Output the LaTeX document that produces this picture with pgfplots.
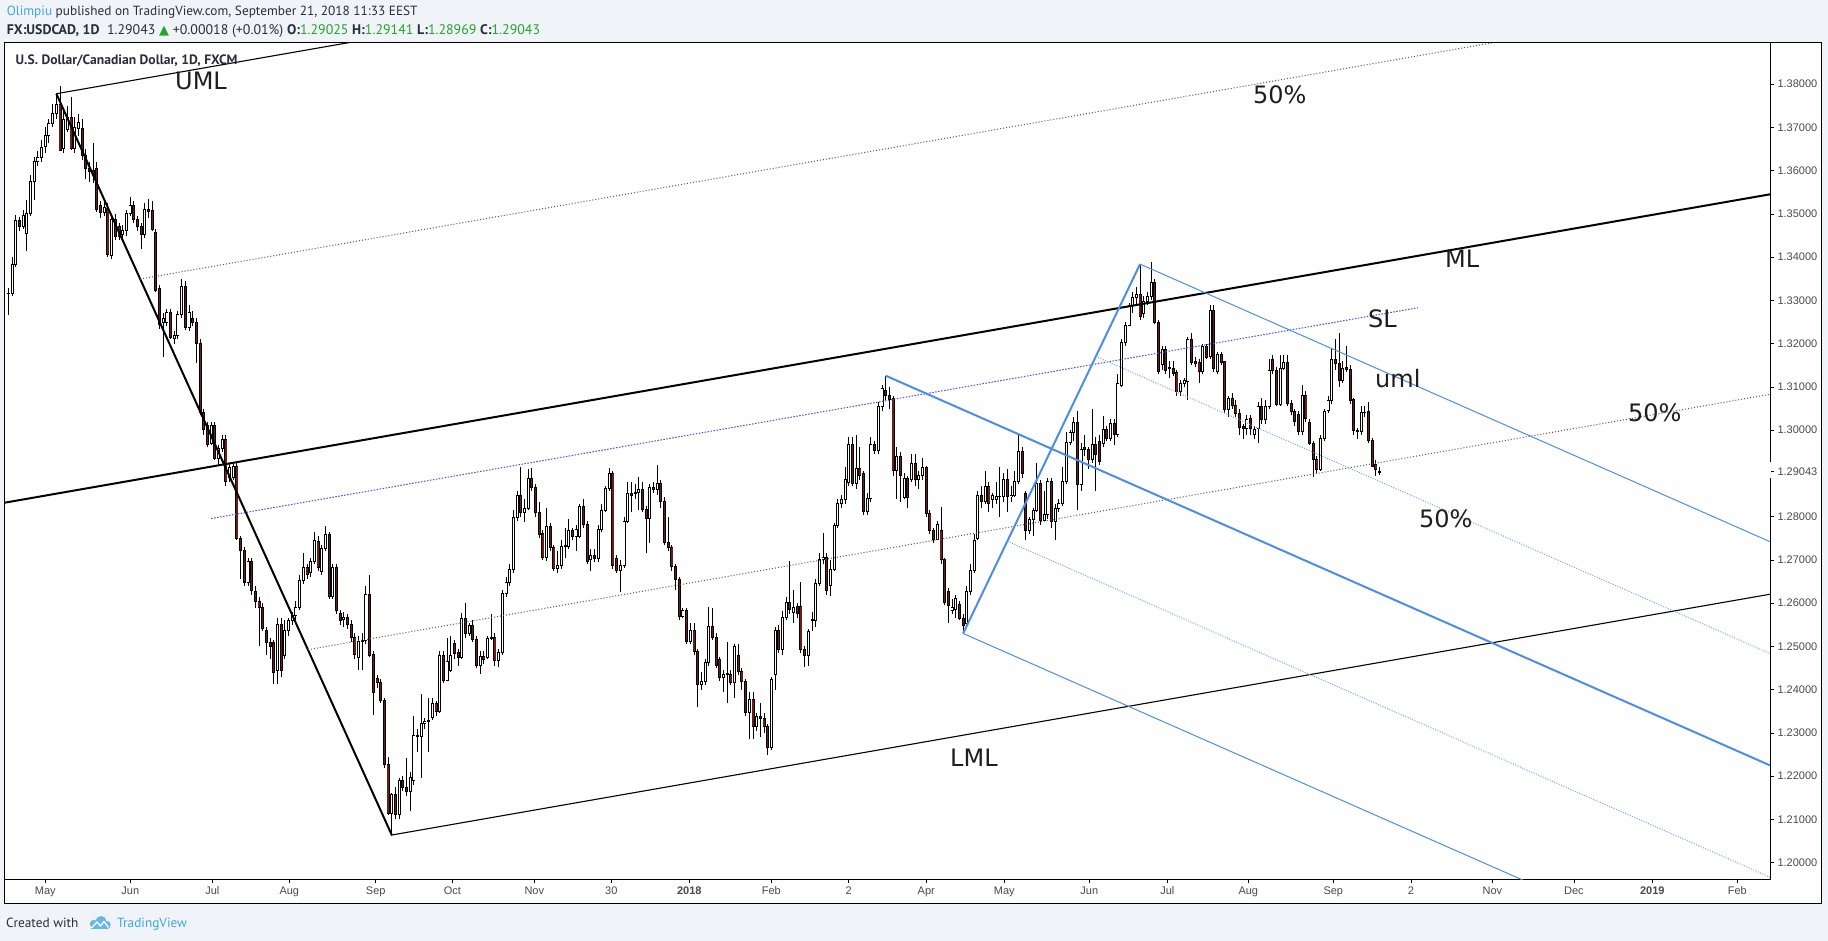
\documentclass[border=0pt]{standalone}
\usepackage{pgfplots}
\pgfplotsset{compat=1.18}
\usepackage{pgfplotstable}
\usepackage{fontspec}
\setmainfont{Liberation Sans}
\newfontfamily\hdrfont{PT Sans}
\newfontfamily\lblfont{DejaVu Sans}
\newfontfamily\symfont{DejaVu Sans}
\definecolor{bgc}{HTML}{F0F3F7}
\definecolor{tickgray}{HTML}{4A4A4A}
\definecolor{hdrtext}{HTML}{2A2E39}
\definecolor{tvgreen}{HTML}{22A52A}
\definecolor{tvlink}{HTML}{3DA8E0}
\definecolor{downred}{HTML}{6E1C14}
\definecolor{dotgray}{HTML}{555555}
\definecolor{slblue}{HTML}{4A4AF5}
\definecolor{pfblue}{HTML}{4C8DE8}
\definecolor{pflight}{HTML}{6FA8F0}
\definecolor{lbltext}{HTML}{1E1E1E}

\pgfplotstableread{
i o h l c
-10 1.3315 1.3328 1.3267 1.3316
-9 1.3317 1.3401 1.3310 1.3383
-8 1.3382 1.3497 1.3378 1.3485
-7 1.3485 1.3492 1.3460 1.3472
-6 1.3472 1.3510 1.3465 1.3497
-5 1.3454 1.3532 1.3415 1.3501
-4 1.3501 1.3590 1.3495 1.3574
-3 1.3574 1.3631 1.3532 1.3622
-2 1.3621 1.3645 1.3610 1.3631
-1 1.3631 1.3670 1.3620 1.3653
0 1.3656 1.3700 1.3640 1.3682
1 1.3682 1.3720 1.3665 1.3709
2 1.3709 1.3755 1.3700 1.3733
3 1.3733 1.3780 1.3720 1.3753
4 1.3753 1.3796 1.3645 1.3647
5 1.3651 1.3745 1.3640 1.3718
6 1.3696 1.3750 1.3690 1.3722
7 1.3722 1.3770 1.3648 1.3651
8 1.3651 1.3725 1.3640 1.3700
9 1.3697 1.3730 1.3680 1.3712
10 1.3697 1.3720 1.3625 1.3634
11 1.3634 1.3650 1.3580 1.3605
12 1.3605 1.3620 1.3575 1.3598
13 1.3600 1.3665 1.3572 1.3590
14 1.3605 1.3620 1.3505 1.3510
15 1.3519 1.3530 1.3490 1.3504
16 1.3504 1.3530 1.3495 1.3514
17 1.3513 1.3525 1.3400 1.3406
18 1.3404 1.3500 1.3395 1.3488
19 1.3488 1.3500 1.3440 1.3448
20 1.3470 1.3480 1.3440 1.3448
21 1.3452 1.3475 1.3440 1.3461
22 1.3461 1.3510 1.3450 1.3501
23 1.3501 1.3540 1.3495 1.3519
24 1.3519 1.3530 1.3480 1.3488
25 1.3488 1.3495 1.3460 1.3470
26 1.3470 1.3480 1.3420 1.3452
27 1.3452 1.3525 1.3445 1.3510
28 1.3510 1.3535 1.3490 1.3506
29 1.3508 1.3530 1.3460 1.3464
30 1.3457 1.3465 1.3320 1.3324
31 1.3327 1.3335 1.3235 1.3244
32 1.3249 1.3270 1.3170 1.3258
33 1.3249 1.3280 1.3240 1.3271
34 1.3271 1.3280 1.3210 1.3215
35 1.3211 1.3230 1.3200 1.3218
36 1.3218 1.3275 1.3210 1.3268
37 1.3268 1.3350 1.3260 1.3333
38 1.3333 1.3345 1.3232 1.3238
39 1.3238 1.3290 1.3230 1.3271
40 1.3259 1.3275 1.3240 1.3249
41 1.3249 1.3260 1.3155 1.3200
42 1.3200 1.3210 1.3035 1.3041
43 1.3041 1.3050 1.2990 1.3001
44 1.3010 1.3020 1.2960 1.2966
45 1.2970 1.3020 1.2965 1.3010
46 1.3010 1.3020 1.2930 1.2935
47 1.2935 1.2965 1.2920 1.2957
48 1.2957 1.2990 1.2950 1.2979
49 1.2979 1.2990 1.2870 1.2882
50 1.2890 1.2925 1.2880 1.2913
51 1.2890 1.2925 1.2885 1.2917
52 1.2917 1.2925 1.2745 1.2749
53 1.2749 1.2755 1.2655 1.2722
54 1.2722 1.2730 1.2640 1.2649
55 1.2647 1.2705 1.2640 1.2696
56 1.2696 1.2705 1.2620 1.2629
57 1.2628 1.2640 1.2590 1.2605
58 1.2605 1.2615 1.2500 1.2590
59 1.2590 1.2600 1.2535 1.2541
60 1.2536 1.2545 1.2480 1.2510
61 1.2510 1.2520 1.2470 1.2500
62 1.2510 1.2515 1.2413 1.2440
63 1.2445 1.2565 1.2413 1.2551
64 1.2551 1.2565 1.2430 1.2445
65 1.2479 1.2560 1.2470 1.2536
66 1.2536 1.2565 1.2525 1.2559
67 1.2559 1.2580 1.2550 1.2572
68 1.2572 1.2605 1.2560 1.2590
69 1.2590 1.2665 1.2585 1.2652
70 1.2652 1.2715 1.2645 1.2682
71 1.2682 1.2690 1.2655 1.2667
72 1.2672 1.2705 1.2660 1.2696
73 1.2696 1.2765 1.2690 1.2744
74 1.2743 1.2755 1.2675 1.2682
75 1.2674 1.2735 1.2665 1.2727
76 1.2727 1.2778 1.2720 1.2758
77 1.2758 1.2765 1.2610 1.2616
78 1.2616 1.2690 1.2610 1.2682
79 1.2682 1.2690 1.2575 1.2583
80 1.2576 1.2585 1.2550 1.2559
81 1.2563 1.2580 1.2545 1.2566
82 1.2566 1.2575 1.2540 1.2550
83 1.2551 1.2560 1.2510 1.2520
84 1.2520 1.2530 1.2470 1.2481
85 1.2475 1.2523 1.2446 1.2511
86 1.2511 1.2530 1.2446 1.2513
87 1.2513 1.2640 1.2505 1.2620
88 1.2620 1.2665 1.2475 1.2480
89 1.2482 1.2490 1.2341 1.2394
90 1.2425 1.2435 1.2405 1.2417
91 1.2417 1.2425 1.2370 1.2375
92 1.2375 1.2380 1.2220 1.2226
93 1.2226 1.2245 1.2110 1.2114
94 1.2114 1.2160 1.2062 1.2158
95 1.2157 1.2175 1.2100 1.2112
96 1.2112 1.2195 1.2100 1.2190
97 1.2190 1.2200 1.2165 1.2174
98 1.2174 1.2242 1.2155 1.2164
99 1.2164 1.2210 1.2120 1.2197
100 1.2190 1.2340 1.2180 1.2293
101 1.2293 1.2310 1.2257 1.2291
102 1.2291 1.2390 1.2195 1.2322
103 1.2322 1.2335 1.2310 1.2327
104 1.2327 1.2380 1.2257 1.2329
105 1.2335 1.2380 1.2330 1.2368
106 1.2368 1.2375 1.2340 1.2349
107 1.2349 1.2490 1.2345 1.2478
108 1.2478 1.2490 1.2415 1.2422
109 1.2422 1.2520 1.2420 1.2466
110 1.2445 1.2525 1.2440 1.2480
111 1.2507 1.2515 1.2470 1.2484
112 1.2486 1.2495 1.2455 1.2475
113 1.2475 1.2577 1.2470 1.2565
114 1.2565 1.2600 1.2520 1.2530
115 1.2530 1.2555 1.2525 1.2548
116 1.2548 1.2560 1.2510 1.2516
117 1.2516 1.2525 1.2450 1.2455
118 1.2455 1.2490 1.2437 1.2476
119 1.2476 1.2490 1.2460 1.2470
120 1.2475 1.2525 1.2470 1.2519
121 1.2519 1.2575 1.2515 1.2520
122 1.2520 1.2530 1.2455 1.2467
123 1.2467 1.2495 1.2453 1.2485
124 1.2485 1.2630 1.2480 1.2623
125 1.2623 1.2660 1.2615 1.2647
126 1.2647 1.2690 1.2640 1.2677
127 1.2677 1.2815 1.2670 1.2799
128 1.2799 1.2860 1.2790 1.2848
129 1.2848 1.2916 1.2800 1.2810
130 1.2810 1.2840 1.2788 1.2819
131 1.2819 1.2910 1.2815 1.2889
132 1.2889 1.2912 1.2860 1.2868
133 1.2868 1.2875 1.2800 1.2809
134 1.2809 1.2835 1.2750 1.2759
135 1.2761 1.2770 1.2700 1.2706
136 1.2706 1.2820 1.2698 1.2778
137 1.2778 1.2785 1.2720 1.2729
138 1.2729 1.2735 1.2675 1.2681
139 1.2681 1.2720 1.2670 1.2687
140 1.2687 1.2745 1.2680 1.2732
141 1.2734 1.2775 1.2705 1.2732
142 1.2732 1.2795 1.2725 1.2767
143 1.2767 1.2775 1.2745 1.2755
144 1.2755 1.2780 1.2720 1.2770
145 1.2755 1.2830 1.2750 1.2823
146 1.2823 1.2840 1.2775 1.2781
147 1.2781 1.2790 1.2690 1.2696
148 1.2700 1.2725 1.2675 1.2711
149 1.2711 1.2725 1.2695 1.2704
150 1.2704 1.2780 1.2695 1.2771
151 1.2771 1.2830 1.2765 1.2815
152 1.2815 1.2870 1.2810 1.2865
153 1.2865 1.2913 1.2860 1.2899
154 1.2899 1.2905 1.2680 1.2686
155 1.2704 1.2712 1.2670 1.2675
156 1.2675 1.2700 1.2626 1.2687
157 1.2687 1.2800 1.2682 1.2790
158 1.2790 1.2880 1.2785 1.2854
159 1.2854 1.2880 1.2810 1.2848
160 1.2854 1.2875 1.2840 1.2856
161 1.2856 1.2892 1.2815 1.2863
162 1.2863 1.2880 1.2810 1.2817
163 1.2817 1.2825 1.2715 1.2796
164 1.2796 1.2876 1.2740 1.2868
165 1.2868 1.2880 1.2855 1.2863
166 1.2863 1.2920 1.2850 1.2877
167 1.2877 1.2885 1.2820 1.2835
168 1.2835 1.2845 1.2735 1.2740
169 1.2741 1.2800 1.2720 1.2729
170 1.2729 1.2735 1.2675 1.2684
171 1.2684 1.2690 1.2630 1.2654
172 1.2654 1.2660 1.2560 1.2569
173 1.2569 1.2590 1.2565 1.2582
174 1.2582 1.2590 1.2505 1.2511
175 1.2511 1.2555 1.2505 1.2538
176 1.2538 1.2555 1.2480 1.2488
177 1.2488 1.2495 1.2361 1.2411
178 1.2413 1.2440 1.2400 1.2418
179 1.2418 1.2470 1.2410 1.2462
180 1.2462 1.2592 1.2455 1.2546
181 1.2546 1.2590 1.2515 1.2521
182 1.2521 1.2530 1.2450 1.2457
183 1.2469 1.2475 1.2420 1.2429
184 1.2429 1.2445 1.2395 1.2436
185 1.2436 1.2510 1.2370 1.2437
186 1.2436 1.2445 1.2410 1.2417
187 1.2417 1.2505 1.2380 1.2499
188 1.2478 1.2505 1.2435 1.2442
189 1.2442 1.2450 1.2400 1.2418
190 1.2418 1.2425 1.2340 1.2347
191 1.2347 1.2395 1.2285 1.2378
192 1.2378 1.2395 1.2285 1.2316
193 1.2316 1.2345 1.2305 1.2339
194 1.2339 1.2370 1.2290 1.2334
195 1.2334 1.2345 1.2300 1.2314
196 1.2314 1.2320 1.2250 1.2267
197 1.2267 1.2430 1.2260 1.2424
198 1.2436 1.2545 1.2400 1.2538
199 1.2538 1.2550 1.2485 1.2492
200 1.2492 1.2582 1.2480 1.2567
201 1.2567 1.2615 1.2560 1.2602
202 1.2602 1.2698 1.2575 1.2586
203 1.2578 1.2630 1.2555 1.2590
204 1.2592 1.2600 1.2565 1.2577
205 1.2593 1.2650 1.2485 1.2493
206 1.2493 1.2500 1.2453 1.2480
207 1.2480 1.2540 1.2455 1.2534
208 1.2563 1.2580 1.2535 1.2561
209 1.2560 1.2655 1.2545 1.2646
210 1.2646 1.2715 1.2640 1.2701
211 1.2701 1.2763 1.2690 1.2705
212 1.2705 1.2715 1.2620 1.2629
213 1.2641 1.2700 1.2617 1.2679
214 1.2679 1.2785 1.2675 1.2779
215 1.2779 1.2840 1.2775 1.2831
216 1.2831 1.2850 1.2820 1.2839
217 1.2839 1.2915 1.2830 1.2887
218 1.2880 1.2985 1.2870 1.2968
219 1.2968 1.2985 1.2870 1.2877
220 1.2877 1.2990 1.2865 1.2912
221 1.2912 1.2960 1.2885 1.2896
222 1.2899 1.2905 1.2805 1.2812
223 1.2812 1.2855 1.2805 1.2843
224 1.2843 1.2985 1.2835 1.2966
225 1.2966 1.2975 1.2945 1.2953
226 1.2953 1.3065 1.2945 1.3054
227 1.3054 1.3105 1.3045 1.3097
228 1.3091 1.3126 1.3070 1.3081
229 1.3081 1.3100 1.3050 1.3071
230 1.3073 1.3080 1.2895 1.2906
231 1.2906 1.2960 1.2840 1.2939
232 1.2940 1.2950 1.2835 1.2896
233 1.2845 1.2900 1.2840 1.2889
234 1.2889 1.2895 1.2820 1.2844
235 1.2885 1.2945 1.2880 1.2923
236 1.2923 1.2945 1.2870 1.2885
237 1.2885 1.2905 1.2865 1.2896
238 1.2896 1.2935 1.2885 1.2914
239 1.2914 1.2918 1.2800 1.2808
240 1.2808 1.2815 1.2760 1.2768
241 1.2769 1.2775 1.2740 1.2748
242 1.2748 1.2790 1.2745 1.2782
243 1.2769 1.2822 1.2690 1.2700
244 1.2700 1.2705 1.2595 1.2601
245 1.2627 1.2635 1.2555 1.2594
246 1.2582 1.2610 1.2575 1.2590
247 1.2586 1.2620 1.2565 1.2610
248 1.2598 1.2605 1.2560 1.2565
249 1.2565 1.2575 1.2530 1.2549
250 1.2553 1.2640 1.2545 1.2627
251 1.2627 1.2690 1.2620 1.2675
252 1.2675 1.2760 1.2670 1.2745
253 1.2750 1.2860 1.2745 1.2850
254 1.2850 1.2870 1.2820 1.2835
255 1.2835 1.2905 1.2830 1.2870
256 1.2870 1.2880 1.2810 1.2830
257 1.2840 1.2855 1.2820 1.2848
258 1.2840 1.2880 1.2830 1.2846
259 1.2846 1.2915 1.2800 1.2847
260 1.2847 1.2900 1.2835 1.2885
261 1.2885 1.2910 1.2810 1.2846
262 1.2846 1.2870 1.2835 1.2850
263 1.2850 1.2905 1.2845 1.2881
264 1.2881 1.2990 1.2875 1.2950
265 1.2950 1.2960 1.2890 1.2900
266 1.2854 1.2860 1.2745 1.2769
267 1.2769 1.2800 1.2760 1.2794
268 1.2794 1.2820 1.2755 1.2815
269 1.2815 1.2925 1.2810 1.2877
270 1.2877 1.2885 1.2780 1.2792
271 1.2792 1.2860 1.2790 1.2806
272 1.2806 1.2890 1.2795 1.2881
273 1.2881 1.2890 1.2775 1.2789
274 1.2789 1.2830 1.2745 1.2819
275 1.2819 1.2840 1.2810 1.2831
276 1.2831 1.2915 1.2825 1.2881
277 1.2881 1.2995 1.2875 1.2972
278 1.2972 1.3000 1.2965 1.2995
279 1.2995 1.3030 1.2975 1.3018
280 1.3018 1.3045 1.2815 1.2875
281 1.2875 1.2970 1.2860 1.2956
282 1.2960 1.2990 1.2940 1.2955
283 1.2955 1.2960 1.2910 1.2933
284 1.2933 1.3050 1.2925 1.2967
285 1.2967 1.2985 1.2860 1.2944
286 1.2975 1.2990 1.2920 1.2928
287 1.2970 1.3032 1.2960 1.3001
288 1.3001 1.3010 1.2975 1.2981
289 1.2981 1.3025 1.2975 1.3016
290 1.3016 1.3025 1.2965 1.2990
291 1.2990 1.3130 1.2985 1.3107
292 1.3104 1.3210 1.3100 1.3202
293 1.3202 1.3250 1.3195 1.3241
294 1.3241 1.3295 1.3240 1.3288
295 1.3288 1.3320 1.3270 1.3306
296 1.3306 1.3330 1.3290 1.3314
297 1.3314 1.3384 1.3255 1.3263
298 1.3269 1.3310 1.3260 1.3297
299 1.3297 1.3320 1.3290 1.3310
300 1.3310 1.3388 1.3300 1.3341
301 1.3341 1.3350 1.3245 1.3249
302 1.3249 1.3255 1.3130 1.3135
303 1.3151 1.3195 1.3140 1.3186
304 1.3187 1.3195 1.3130 1.3139
305 1.3145 1.3160 1.3120 1.3142
306 1.3143 1.3160 1.3125 1.3132
307 1.3133 1.3140 1.3080 1.3089
308 1.3089 1.3115 1.3080 1.3108
309 1.3108 1.3120 1.3100 1.3114
310 1.3112 1.3215 1.3070 1.3209
311 1.3210 1.3225 1.3150 1.3156
312 1.3158 1.3170 1.3145 1.3154
313 1.3156 1.3165 1.3110 1.3135
314 1.3135 1.3200 1.3130 1.3193
315 1.3193 1.3200 1.3165 1.3169
316 1.3170 1.3290 1.3165 1.3276
317 1.3276 1.3290 1.3135 1.3143
318 1.3135 1.3180 1.3130 1.3174
319 1.3174 1.3180 1.3150 1.3156
320 1.3158 1.3160 1.3040 1.3048
321 1.3048 1.3080 1.3030 1.3074
322 1.3074 1.3085 1.3050 1.3058
323 1.3058 1.3070 1.3030 1.3038
324 1.3038 1.3050 1.2990 1.3007
325 1.3008 1.3015 1.2980 1.3005
326 1.3005 1.3035 1.2990 1.3024
327 1.3026 1.3035 1.2990 1.3005
328 1.2990 1.3010 1.2980 1.3001
329 1.3005 1.3065 1.2970 1.3055
330 1.3055 1.3075 1.3015 1.3024
331 1.3024 1.3070 1.3015 1.3055
332 1.3055 1.3165 1.3050 1.3139
333 1.3164 1.3175 1.3130 1.3137
334 1.3137 1.3145 1.3055 1.3060
335 1.3060 1.3175 1.3055 1.3143
336 1.3143 1.3175 1.3140 1.3156
337 1.3156 1.3175 1.3055 1.3062
338 1.3062 1.3070 1.3035 1.3043
339 1.3043 1.3050 1.3010 1.3020
340 1.3037 1.3045 1.2990 1.2997
341 1.2997 1.3105 1.2990 1.3081
342 1.3081 1.3090 1.3020 1.3027
343 1.3017 1.3025 1.2965 1.2970
344 1.2970 1.2975 1.2892 1.2933
345 1.2933 1.2940 1.2900 1.2910
346 1.2910 1.2990 1.2905 1.2981
347 1.2981 1.3050 1.2975 1.3043
348 1.3045 1.3080 1.3040 1.3069
349 1.3069 1.3190 1.3060 1.3164
350 1.3164 1.3210 1.3140 1.3154
351 1.3154 1.3225 1.3100 1.3116
352 1.3116 1.3160 1.3110 1.3143
353 1.3144 1.3195 1.3135 1.3140
354 1.3140 1.3150 1.3060 1.3068
355 1.3070 1.3075 1.2990 1.2999
356 1.2999 1.3005 1.2980 1.2998
357 1.2998 1.3055 1.2990 1.3040
358 1.3040 1.3055 1.3030 1.3042
359 1.3044 1.3065 1.2970 1.2977
360 1.2977 1.2982 1.2915 1.2917
361 1.2920 1.2930 1.2895 1.2908
362 1.29025 1.29141 1.28969 1.29043
}\candles

\pgfplotsset{
  cbar/.style={draw=none, mark=none, forget plot, unbounded coords=discard,
    error bars/.cd, y dir=plus, y explicit, error mark=none,
    error bar style={#1}},
}

\begin{document}
\begin{tikzpicture}[x=1pt,y=1pt]
\useasboundingbox (0,0) rectangle (1828,941);
\fill[bgc] (0,0) rectangle (1828,941);
\fill[white] (4,37) rectangle (1821,898);

\begin{axis}[
  at={(5pt,61.7pt)}, anchor=south west,
  scale only axis, width=1765pt, height=836.3pt,
  xmin=-10.93, xmax=467.9, ymin=1.19616, ymax=1.38953,
  axis line style={black, line width=1pt},
  xtick pos=bottom, ytick pos=right, yticklabel pos=right,
  tick align=outside, major tick length=4pt,
  tick style={black, line width=0.8pt},
  xtick={0,23.06,45.31,66.2,89.64,110.42,132.66,153.55,174.72,196.96,217.96,239.01,260.17,283.23,304.39,326.37,349.43,370.5,392.57,414.7,435.97,459.03},
  xticklabels={May,Jun,Jul,Aug,Sep,Oct,Nov,30,\textbf{2018},Feb,2,Apr,May,Jun,Jul,Aug,Sep,2,Nov,Dec,\textbf{2019},Feb},
  ytick={1.20,1.21,1.22,1.23,1.24,1.25,1.26,1.27,1.28,1.30,1.31,1.32,1.33,1.34,1.35,1.36,1.37,1.38},
  extra y ticks={1.29043},
  extra y tick labels={1.29043},
  yticklabel style={font=\fontsize{11}{13}\selectfont, text=tickgray, /pgf/number format/.cd, fixed, fixed zerofill, precision=5, assume math mode=true},
  xticklabel style={font=\fontsize{11}{13}\selectfont, text=tickgray},
  scaled y ticks=false,
  clip=true,
]
% wicks
\addplot[cbar={draw=black, line width=1pt}] table[x=i, y=l, y error expr=\thisrow{h}-\thisrow{l}] {\candles};
% body outline
\addplot[cbar={draw=black, line width=3pt, line cap=butt}] table[x=i, y expr={min(\thisrow{o},\thisrow{c})-0.000116}, y error expr={abs(\thisrow{c}-\thisrow{o})+0.000232}] {\candles};
% up bodies (hollow)
\addplot[restrict expr to domain={\thisrow{c}-\thisrow{o}}{0:1}, cbar={draw=white, line width=1.2pt, line cap=butt}] table[x=i, y expr={min(\thisrow{o},\thisrow{c})+0.000116}, y error expr={max(abs(\thisrow{c}-\thisrow{o})-0.000232,0)}] {\candles};
% down bodies
\addplot[restrict expr to domain={\thisrow{c}-\thisrow{o}}{-1:0}, cbar={draw=downred, line width=1.2pt, line cap=butt}] table[x=i, y expr={min(\thisrow{o},\thisrow{c})+0.000116}, y error expr={max(abs(\thisrow{c}-\thisrow{o})-0.000232,0)}] {\candles};

% black pitchfork
\addplot[black, line width=2pt] coordinates {(-10.93,1.28325) (467.9,1.35454)};
\addplot[black, line width=2pt] coordinates {(3,1.3778) (94,1.2064)};
\addplot[black, line width=1.1pt] coordinates {(3,1.3778) (90,1.39075)};
\addplot[black, line width=1.1pt] coordinates {(94,1.2064) (467.9,1.26207)};
\addplot[dotgray, line width=1pt, dash pattern=on 1pt off 2pt] coordinates {(25.75,1.33495) (400,1.39068)};
\addplot[dotgray, line width=1pt, dash pattern=on 1pt off 2pt] coordinates {(71.25,1.24925) (467.9,1.30830)};
\addplot[slblue, line width=1pt, dash pattern=on 1.5pt off 1.5pt] coordinates {(45,1.27958) (372.4,1.32832)};
% blue pitchfork
\addplot[pfblue, line width=2pt] coordinates {(228,1.3126) (467.9,1.22250)};
\addplot[pfblue, line width=2pt] coordinates {(249,1.2530) (297,1.3384)};
\addplot[pfblue, line width=1pt] coordinates {(297,1.3384) (467.9,1.27422)};
\addplot[pfblue, line width=1pt] coordinates {(249,1.2530) (467.9,1.17079)};
\addplot[pflight, line width=1pt, dash pattern=on 1pt off 1.5pt] coordinates {(285,1.31705) (467.9,1.24836)};
\addplot[pflight, line width=1pt, dash pattern=on 1pt off 1.5pt] coordinates {(261,1.27435) (467.9,1.19665)};
\end{axis}

% gap in price axis at last price
\fill[white] (1768.8,462.7) rectangle (1771.2,479.3);

% frame
\draw[black, line width=1pt] (4,37) rectangle (1821,898);

% labels on chart
\begin{scope}[every node/.style={inner sep=0pt, anchor=base west, text=lbltext, font=\lblfont\fontsize{24}{28}\selectfont}]
\node at (175,851) {UML};
\node at (1445,673) {ML};
\node at (1253,837) {50\%};
\node at (1628,519) {50\%};
\node at (1368,613) {SL};
\node at (1375,553) {uml};
\node at (1419,413) {50\%};
\node at (950,174) {LML};
\end{scope}

% title inside chart
\node[anchor=base west, inner sep=0pt, text=hdrtext, font=\hdrfont\bfseries\fontsize{13.6}{15}\selectfont] at (15.5,876.5) {U.S. Dollar/Canadian Dollar, 1D, FXCM};

% header
\node[anchor=base west, inner sep=0pt, text=hdrtext, font=\hdrfont\fontsize{13.3}{15}\selectfont] at (6.7,925) {\textcolor{tvlink}{Olimpiu} published on TradingView.com, September 21, 2018 11:33 EEST};
\node[anchor=base west, inner sep=0pt, text=hdrtext, font=\hdrfont\fontsize{13.9}{15}\selectfont] at (6.7,906.5) {\textbf{FX:USDCAD, 1D}\ \ 1.29043 {\symfont\fontsize{13}{14}\selectfont\textcolor{tvgreen}{▲}} +0.00018 (+0.01\%) \textbf{O:}\textcolor{tvgreen}{1.29025} \textbf{H:}\textcolor{tvgreen}{1.29141} \textbf{L:}\textcolor{tvgreen}{1.28969} \textbf{C:}\textcolor{tvgreen}{1.29043}};

% footer
\node[anchor=base west, inner sep=0pt, text=hdrtext, font=\hdrfont\fontsize{13.3}{15}\selectfont] at (6,13.5) {Created with};
\begin{scope}[tvlink!80]
\fill (94,17) circle (4.2);
\fill (101,19.5) circle (5.5);
\fill (106.5,16) circle (4.2);
\fill (91,12) rectangle (108,17);
\draw[white, line width=1.3pt, line join=round] (91.5,13) -- (97,19) -- (100.5,15) -- (104,19.5) -- (108.5,13.5);
\end{scope}
\node[anchor=base west, inner sep=0pt, text=tvlink, font=\hdrfont\fontsize{13.3}{15}\selectfont] at (117,13.5) {TradingView};
\end{tikzpicture}
\end{document}
